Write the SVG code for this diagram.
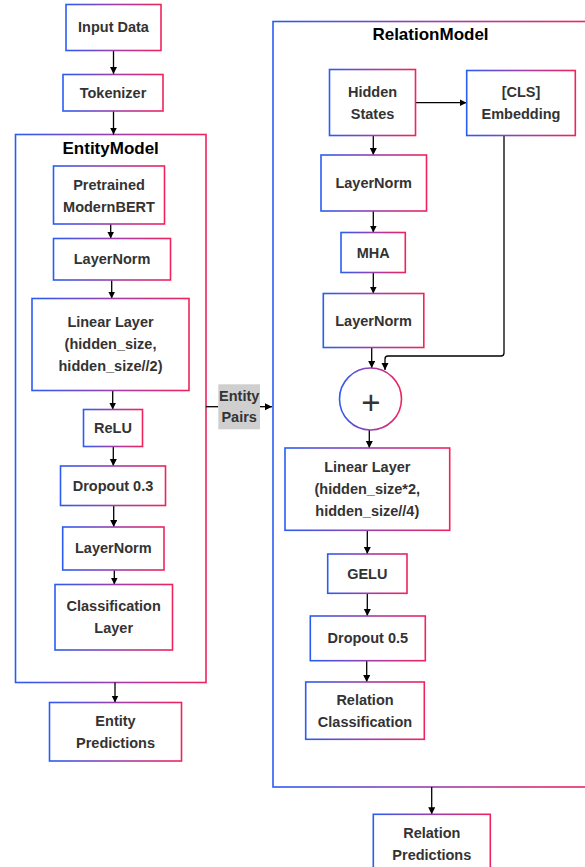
<svg xmlns="http://www.w3.org/2000/svg" width="585" height="867" viewBox="0 0 585 867">
<defs>
  <linearGradient id="g" x1="0" y1="0" x2="1" y2="0">
    <stop offset="0" stop-color="#2a5cf2"/>
    <stop offset="0.5" stop-color="#9a3fae"/>
    <stop offset="1" stop-color="#f0235c"/>
  </linearGradient>
  <marker id="ah" markerUnits="userSpaceOnUse" markerWidth="8" markerHeight="8" refX="7" refY="3.5" orient="auto">
    <path d="M0,0 L7,3.5 L0,7 z" fill="#000"/>
  </marker>
  <style>
    .box{fill:#fff;stroke:url(#g);stroke-width:1.6}
    .t{font-family:"Liberation Sans",Arial,sans-serif;font-weight:bold;font-size:14.5px;fill:#333;text-anchor:middle}
    .title{font-family:"Liberation Sans",Arial,sans-serif;font-weight:bold;font-size:17px;fill:#000;text-anchor:middle}
    .c{fill:none;stroke:#000;stroke-width:1.3;marker-end:url(#ah)}
    .cn{fill:none;stroke:#000;stroke-width:1.3}
  </style>
</defs>
<rect width="585" height="867" fill="#fff"/>

<g id="entityModel">
  <rect class="box" x="15.5" y="134.5" width="190.5" height="548"/>
  <text class="title" x="110.7" y="153.5">EntityModel</text>
</g>
<g id="relationModel">
  <rect class="box" x="273" y="21.5" width="317" height="765.5"/>
  <text class="title" x="430.5" y="40">RelationModel</text>
</g>

<g id="connectors">
  <line class="c" x1="113.5" y1="50.5" x2="113.5" y2="74"/>
  <line class="c" x1="113.5" y1="111" x2="113.5" y2="134.5"/>
  <line class="c" x1="110.7" y1="224" x2="110.7" y2="238.5"/>
  <line class="c" x1="111.7" y1="280" x2="111.7" y2="298.5"/>
  <line class="c" x1="112.7" y1="390.7" x2="112.7" y2="409.5"/>
  <line class="c" x1="113.3" y1="446.7" x2="113.3" y2="466"/>
  <line class="c" x1="113.7" y1="505.5" x2="113.7" y2="527"/>
  <line class="c" x1="114.3" y1="570" x2="114.3" y2="584.5"/>
  <line class="c" x1="115" y1="682.5" x2="115" y2="702.5"/>
  <line class="cn" x1="206" y1="406.7" x2="218.3" y2="406.7"/>
  <line class="c" x1="260" y1="406.7" x2="272" y2="406.7"/>
  <line class="c" x1="415.7" y1="102.7" x2="466.5" y2="102.7"/>
  <line class="c" x1="373.3" y1="135.5" x2="373.3" y2="155"/>
  <line class="c" x1="373.3" y1="211" x2="373.3" y2="232.5"/>
  <line class="c" x1="373.3" y1="272.7" x2="373.3" y2="293.5"/>
  <line class="c" x1="371.7" y1="347.5" x2="371.7" y2="368"/>
  <path class="c" d="M504,135.5 V353 Q504,356 501,356 H388 Q385,356 385,359 V370"/>
  <line class="c" x1="369.3" y1="430" x2="369.3" y2="448"/>
  <line class="c" x1="367.3" y1="530.3" x2="367.3" y2="554"/>
  <line class="c" x1="367.3" y1="593.3" x2="367.3" y2="616"/>
  <line class="c" x1="366.7" y1="660.7" x2="366.7" y2="682"/>
  <line class="c" x1="431.7" y1="787" x2="431.7" y2="814.3"/>
</g>

<g id="entityPairs">
  <rect x="218.3" y="384.3" width="41.7" height="45" fill="#cfcfcf"/>
  <text class="t" x="239.2" y="401">Entity</text>
  <text class="t" x="239.2" y="421.7">Pairs</text>
</g>

<g id="inputData">
  <rect class="box" x="66" y="4.5" width="95" height="46"/>
  <text class="t" x="113.5" y="32.3">Input Data</text>
</g>
<g id="tokenizer">
  <rect class="box" x="63" y="74.5" width="100" height="36.5"/>
  <text class="t" x="113" y="97.7">Tokenizer</text>
</g>
<g id="pretrained">
  <rect class="box" x="53.5" y="166" width="111" height="58"/>
  <text class="t" x="109" y="189.5">Pretrained</text>
  <text class="t" x="109" y="211.5">ModernBERT</text>
</g>
<g id="layerNorm1">
  <rect class="box" x="53.5" y="238.5" width="117" height="41.5"/>
  <text class="t" x="112" y="264">LayerNorm</text>
</g>
<g id="linear1">
  <rect class="box" x="32" y="298.5" width="157" height="92"/>
  <text class="t" x="110.5" y="326.7">Linear Layer</text>
  <text class="t" x="110.5" y="348.5">(hidden_size,</text>
  <text class="t" x="110.5" y="370.5">hidden_size//2)</text>
</g>
<g id="relu">
  <rect class="box" x="83.5" y="409.5" width="59" height="37"/>
  <text class="t" x="113" y="433.3">ReLU</text>
</g>
<g id="dropout1">
  <rect class="box" x="60.5" y="466" width="105" height="39.5"/>
  <text class="t" x="113" y="490.7">Dropout 0.3</text>
</g>
<g id="layerNorm2">
  <rect class="box" x="62.7" y="527" width="101.3" height="43"/>
  <text class="t" x="113.3" y="553.3">LayerNorm</text>
</g>
<g id="classification">
  <rect class="box" x="55" y="584.5" width="117.5" height="65.5"/>
  <text class="t" x="113.7" y="611">Classification</text>
  <text class="t" x="113.7" y="632.7">Layer</text>
</g>
<g id="entityPredictions">
  <rect class="box" x="49.5" y="702.5" width="132" height="58.5"/>
  <text class="t" x="115.5" y="725.7">Entity</text>
  <text class="t" x="115.5" y="747.7">Predictions</text>
</g>

<g id="hiddenStates">
  <rect class="box" x="329.5" y="69.5" width="86" height="66"/>
  <text class="t" x="372.5" y="96.7">Hidden</text>
  <text class="t" x="372.5" y="118.8">States</text>
</g>
<g id="clsEmbedding">
  <rect class="box" x="466.7" y="70.5" width="108.6" height="65"/>
  <text class="t" x="521" y="97">[CLS]</text>
  <text class="t" x="521" y="119">Embedding</text>
</g>
<g id="relLayerNorm1">
  <rect class="box" x="321" y="155" width="105.5" height="56"/>
  <text class="t" x="373.7" y="188">LayerNorm</text>
</g>
<g id="mha">
  <rect class="box" x="341" y="232.5" width="64.3" height="40"/>
  <text class="t" x="373.2" y="257.5">MHA</text>
</g>
<g id="relLayerNorm2">
  <rect class="box" x="323.3" y="293.5" width="100.5" height="54"/>
  <text class="t" x="373.5" y="325.5">LayerNorm</text>
</g>
<g id="add">
  <circle class="box" cx="370.5" cy="399" r="31"/>
  <text x="371" y="413.5" font-family="Liberation Sans, Arial, sans-serif" font-size="33" fill="#333" text-anchor="middle">+</text>
</g>
<g id="linear2">
  <rect class="box" x="285" y="448" width="164.7" height="82.3"/>
  <text class="t" x="367.3" y="471.7">Linear Layer</text>
  <text class="t" x="367.3" y="494">(hidden_size*2,</text>
  <text class="t" x="367.3" y="516">hidden_size//4)</text>
</g>
<g id="gelu">
  <rect class="box" x="327.7" y="554" width="79.3" height="39.3"/>
  <text class="t" x="367.3" y="578.7">GELU</text>
</g>
<g id="dropout2">
  <rect class="box" x="310.3" y="616" width="115" height="44.7"/>
  <text class="t" x="367.8" y="643.3">Dropout 0.5</text>
</g>
<g id="relationClassification">
  <rect class="box" x="305.7" y="682" width="118.6" height="57.3"/>
  <text class="t" x="365" y="704.5">Relation</text>
  <text class="t" x="365" y="726.7">Classification</text>
</g>
<g id="relationPredictions">
  <rect class="box" x="373.3" y="814.3" width="117" height="62"/>
  <text class="t" x="431.8" y="837.5">Relation</text>
  <text class="t" x="431.8" y="859.5">Predictions</text>
</g>
</svg>
